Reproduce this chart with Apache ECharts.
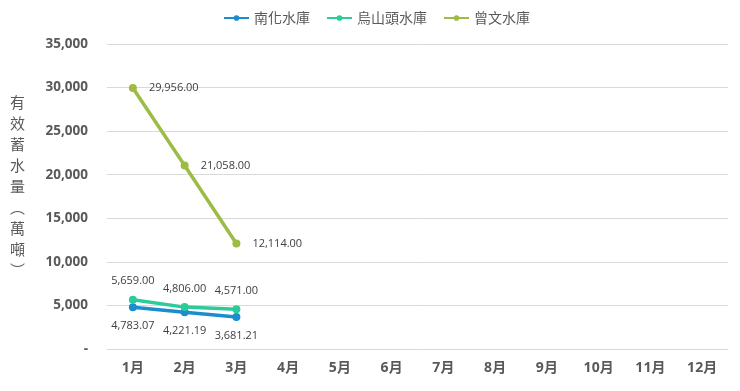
<!DOCTYPE html>
<html><head><meta charset="utf-8">
<script src="https://cdn.jsdelivr.net/npm/echarts@6/dist/echarts.min.js"></script>
<style>html,body{margin:0;padding:0;background:#fff}#c{width:740px;height:391px}</style>
</head><body><div id="c"></div>
<script>
const months = ['1月','2月','3月','4月','5月','6月','7月','8月','9月','10月','11月','12月'];
const seriesNames = ['南化水庫','烏山頭水庫','曾文水庫'];
const nanhua = [4783.07, 4221.19, 3681.21];
const wushantou = [5659.00, 4806.00, 4571.00];
const zengwen = [29956.00, 21058.00, 12114.00];
const yTicks = [0, 5000, 10000, 15000, 20000, 25000, 30000, 35000];
const colors = ['#1B8DCF', '#2CCB9A', '#9DBB45'];
const axisTitle = ['有','效','蓄','水','量','︵','萬','噸','︶'];

const fmt = v => Number(v).toLocaleString('en-US',{minimumFractionDigits:2,maximumFractionDigits:2});
const font = '"Noto Sans CJK TC","Open Sans",sans-serif';
const lbl = pos => ({show:true, position:pos, distance:pos==='right'?12:9, color:'#404040', fontSize:11, fontFamily:'"Open Sans","Noto Sans CJK TC",sans-serif', formatter:p=>fmt(p.value)});
function mk(name, data, color, pos){
  return {name, type:'line', data, symbol:'circle', symbolSize:8, color,
    lineStyle:{width:3.5,color}, itemStyle:{color}, label:lbl(pos)};
}
const chart = echarts.init(document.getElementById('c'));
chart.setOption({
  animation:false,
  legend:{top:6,left:218,itemWidth:25,itemHeight:7,itemGap:16,
    textStyle:{color:'#595959',fontSize:14,fontFamily:font},data:seriesNames},
  grid:{left:107,right:12,top:44,bottom:42},
  xAxis:{type:'category',data:months,boundaryGap:true,
    axisLine:{show:true,lineStyle:{color:'#d9d9d9'}},axisTick:{show:false},
    axisLabel:{color:'#595959',fontSize:14,fontWeight:'bold',margin:12,fontFamily:'"Open Sans","Noto Sans CJK TC",sans-serif'}},
  yAxis:{type:'value',min:yTicks[0],max:yTicks[yTicks.length-1],interval:5000,
    axisLine:{show:false},axisTick:{show:false},
    splitLine:{lineStyle:{color:'#d9d9d9'}},
    axisLabel:{color:'#595959',fontSize:13.5,fontWeight:'bold',margin:19,fontFamily:'"Open Sans",sans-serif',
      formatter:v=>v===0?'-':v.toLocaleString('en-US')}},
  graphic:[{type:'text',left:10,top:92,style:{text:axisTitle.join('\n'),fill:'#595959',font:'15px '+font,lineHeight:21,align:'center'}}],
  series:[mk(seriesNames[0],nanhua,colors[0],'bottom'),mk(seriesNames[1],wushantou,colors[1],'top'),mk(seriesNames[2],zengwen,colors[2],'right')]
});
</script></body></html>
